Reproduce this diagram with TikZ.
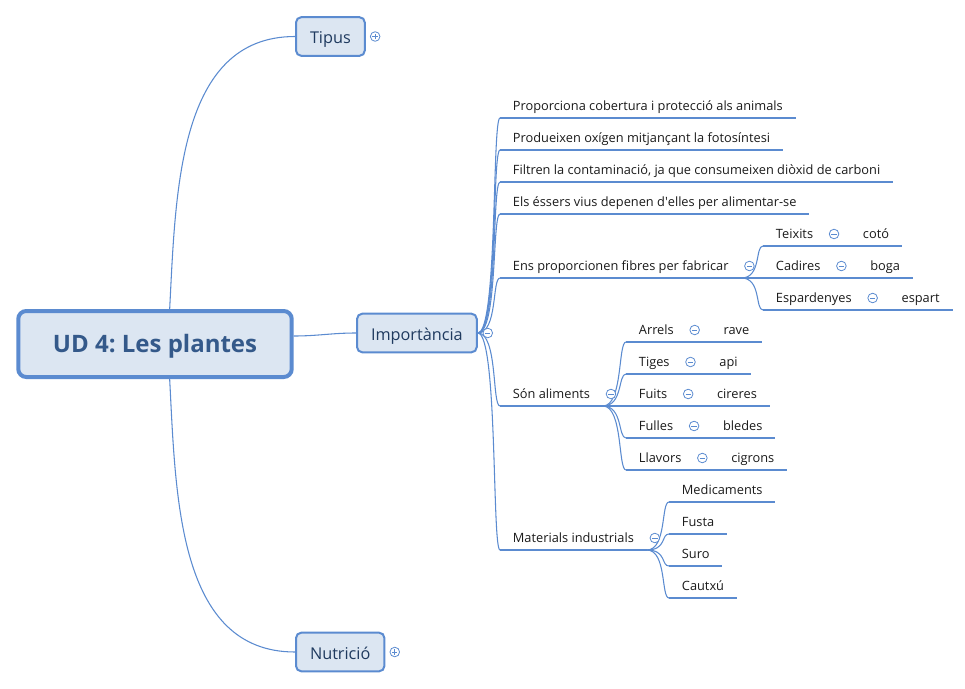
\documentclass[tikz,border=0pt]{standalone}
\usepackage{fontspec}
\setmainfont{Open Sans}
\usetikzlibrary{positioning}
\frenchspacing

\definecolor{mapline}{HTML}{5B8BD0}
\definecolor{topicfill}{HTML}{DCE6F2}
\definecolor{topictext}{HTML}{1F3A5F}
\definecolor{titletext}{HTML}{34598A}
\definecolor{leaftext}{HTML}{1A1A1A}

\tikzset{
  central/.style={draw=mapline, line width=3pt, fill=topicfill, rounded corners=6pt,
    inner xsep=26pt, minimum height=49.5pt, text=titletext,
    text height=12.9pt, text depth=0pt,
    font=\fontsize{18}{20}\selectfont\bfseries},
  topic/.style={draw=mapline, line width=1.5pt, fill=topicfill, rounded corners=4pt,
    inner xsep=10.5pt, minimum height=29pt, text=topictext, anchor=west,
    text height=10.8pt, text depth=0pt,
    font=\fontsize{12.2}{14}\selectfont},
  leaf/.style={inner xsep=9.5pt, inner ysep=3pt, text height=7pt, text depth=2.5pt,
    text=leaftext, anchor=south west, font=\fontsize{9.6}{11}\selectfont},
  uline/.style={draw=mapline, line width=2.2pt},
  branch/.style={draw=mapline, line width=0.8pt},
  fold/.style={draw=mapline, fill=white, line width=0.6pt},
  foldminus/.pic={\draw[fold] (0,0) circle (3.6pt);
    \draw[mapline, line width=0.6pt] (-2pt,0) -- (2pt,0);},
  foldplus/.pic={\draw[fold] (0,0) circle (3.6pt);
    \draw[mapline, line width=0.6pt] (-2pt,0) -- (2pt,0) (0,-2pt) -- (0,2pt);},
}

\begin{document}
\begin{tikzpicture}[x=0.75pt, y=-0.75pt]
  \useasboundingbox (0,0) rectangle (965,689);

  % main topics
  \node[central] (ud) at (155,344) {UD 4: Les plantes};
  \node[topic] (tipus) at (295,36.5) {Tipus};
  \node[topic] (imp) at (356,333) {Importància};
  \node[topic] (nutricio) at (295,652) {Nutrició};

  \draw[branch] ([xshift=11pt]ud.north) to[out=87,in=180] (tipus.west);
  \draw[branch] ([xshift=11pt]ud.south) to[out=-87,in=180] (nutricio.west);
  \draw[branch] ([yshift=6pt]ud.east) to[out=0,in=180] (imp.west);

  % importancia
  \node[leaf] (c1) at (500,118) {Proporciona cobertura i protecció als animals};
  \node[leaf] (c2) at (500,150) {Produeixen oxígen mitjançant la fotosíntesi};
  \node[leaf] (c3) at (500,182) {Filtren la contaminació, ja que consumeixen diòxid de carboni};
  \node[leaf] (c4) at (500,214) {Els éssers vius depenen d\textquotesingle elles per alimentar-se};
  \node[leaf] (c5) at (500,278) {Ens proporcionen fibres per fabricar};
  \node[leaf] (c6) at (500,406) {Són aliments};
  \node[leaf] (c7) at (500,550) {Materials industrials};

  % fibres
  \node[leaf] (f1) at (763,246) {Teixits};
  \node[leaf] (f2) at (763,278) {Cadires};
  \node[leaf] (f3) at (763,310) {Espardenyes};
  \node[leaf, right=18pt of f1.south east, anchor=south west] (fv1) {cotó};
  \node[leaf, right=18pt of f2.south east, anchor=south west] (fv2) {boga};
  \node[leaf, right=18pt of f3.south east, anchor=south west] (fv3) {espart};

  % aliments
  \node[leaf] (a1) at (626,342) {Arrels};
  \node[leaf] (a2) at (626,374) {Tiges};
  \node[leaf] (a3) at (626,406) {Fuits};
  \node[leaf] (a4) at (626,438) {Fulles};
  \node[leaf] (a5) at (626,470) {Llavors};
  \node[leaf, right=18pt of a1.south east, anchor=south west] (av1) {rave};
  \node[leaf, right=18pt of a2.south east, anchor=south west] (av2) {api};
  \node[leaf, right=18pt of a3.south east, anchor=south west] (av3) {cireres};
  \node[leaf, right=18pt of a4.south east, anchor=south west] (av4) {bledes};
  \node[leaf, right=18pt of a5.south east, anchor=south west] (av5) {cigrons};

  % materials
  \node[leaf] (m1) at (669,502) {Medicaments};
  \node[leaf] (m2) at (669,534) {Fusta};
  \node[leaf] (m3) at (669,566) {Suro};
  \node[leaf] (m4) at (669,598) {Cautxú};

  % connectors
  \foreach \n in {c1,c2,c3,c4,c5,c6,c7}
    \draw[branch] (imp.east) .. controls +(20,0) and +(-8,0) .. (\n.south west);
  \foreach \n in {f1,f2,f3}
    \draw[branch] (c5.south east) .. controls +(20,0) and +(-8,0) .. (\n.south west);
  \foreach \n in {a1,a2,a3,a4,a5}
    \draw[branch] (c6.south east) .. controls +(20,0) and +(-8,0) .. (\n.south west);
  \foreach \n in {m1,m2,m3,m4}
    \draw[branch] (c7.south east) .. controls +(20,0) and +(-8,0) .. (\n.south west);
  \foreach \k/\v in {f1/fv1,f2/fv2,f3/fv3,a1/av1,a2/av2,a3/av3,a4/av4,a5/av5}
    \draw[branch] (\k.south east) -- (\v.south west);

  % underlines
  \foreach \n in {c1,c2,c3,c4,c5,c6,c7,f1,f2,f3,fv1,fv2,fv3,
                  a1,a2,a3,a4,a5,av1,av2,av3,av4,av5,m1,m2,m3,m4}
    \draw[uline] (\n.south west) -- (\n.south east);

  % fold icons
  \pic at ([xshift=7pt]tipus.east) {foldplus};
  \pic at ([xshift=7pt]nutricio.east) {foldplus};
  \pic at ([xshift=7.5pt]imp.east) {foldminus};
  \foreach \n in {c5,c6,c7,f1,f2,f3,a1,a2,a3,a4,a5}
    \pic at ([shift={(8,-12)}]\n.south east) {foldminus};
\end{tikzpicture}
\end{document}
